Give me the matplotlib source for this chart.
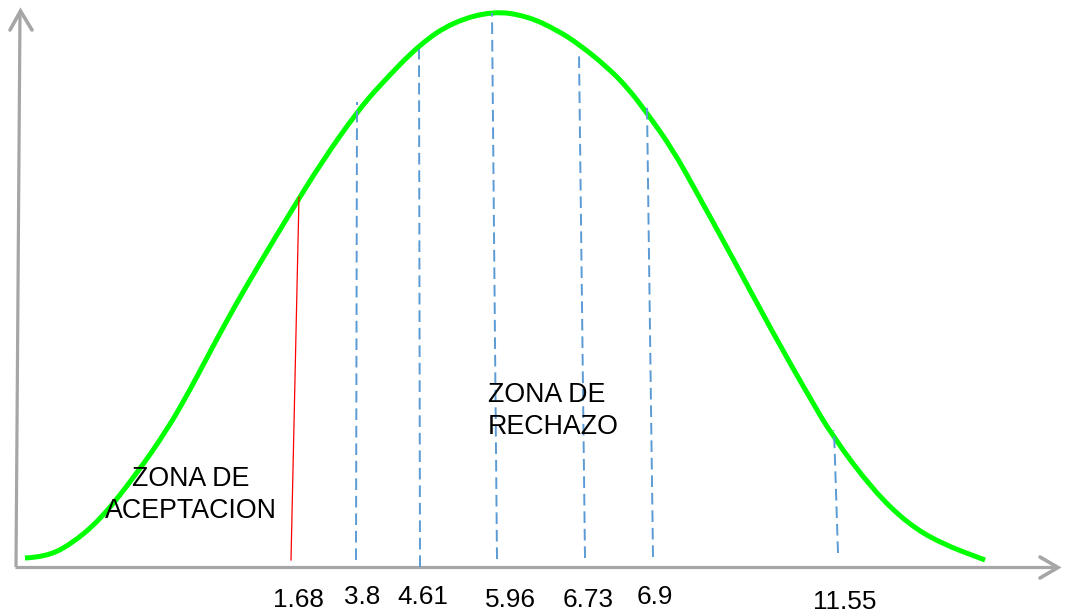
import matplotlib
matplotlib.use("Agg")
import matplotlib.pyplot as plt
from matplotlib.path import Path
from matplotlib.patches import PathPatch

# puntos de la curva (en pixeles)
curve_x = [25, 45, 70, 100, 135, 167, 190, 212, 236, 260, 290, 323, 357, 380,
           420, 453, 493, 527, 557, 580, 607, 627, 647, 673, 697, 730,
           773, 807, 833, 873, 907, 940, 985]
curve_y = [558, 557, 545, 520, 476, 430, 390, 348, 304, 263, 213, 160, 112, 85,
           44, 22, 11, 16, 30, 45, 67, 87, 113, 150, 193, 253,
           333, 393, 437, 490, 523, 543, 560]

# valores criticos y posicion de sus lineas
cut_labels = ["3.8", "4.61", "5.96", "6.73", "6.9", "11.55"]
cut_x0 = [356, 420, 497, 585, 653, 838]   # abajo
cut_x1 = [357, 419, 492, 579, 647, 834]   # arriba
cut_y0 = [560, 567, 559, 558, 557, 553]
cut_y1 = [102, 49, 13, 53, 106, 430]
label_x = [362, 423, 510, 588, 655, 845]
label_y = [597, 597, 600, 600, 597, 602]

red_label = "1.68"
red_x = [291, 299]
red_y = [560, 197]

fig = plt.figure(figsize=(10.67, 6.16), dpi=100)
ax = fig.add_axes([0, 0, 1, 1])
ax.set_xlim(0, 1067)
ax.set_ylim(616, 0)
ax.axis("off")

gray = "#a6a6a6"
# ejes con flechas
ax.plot([16, 20], [567, 12], color=gray, lw=2.3, solid_capstyle="butt")
ax.plot([15, 1056], [567, 567], color=gray, lw=2.3, solid_capstyle="butt")
ax.plot([10, 20.5, 32], [30, 11, 30], color=gray, lw=2.6,
        solid_capstyle="round", solid_joinstyle="miter")
ax.plot([1040, 1058, 1040], [557, 567.5, 578], color=gray, lw=2.6,
        solid_capstyle="round", solid_joinstyle="miter")

# curva suave: bezier cuadratica con los puntos como control
verts = [(curve_x[0], curve_y[0])]
codes = [Path.MOVETO]
for i in range(1, len(curve_x) - 1):
    mx = (curve_x[i] + curve_x[i + 1]) / 2
    my = (curve_y[i] + curve_y[i + 1]) / 2
    verts += [(curve_x[i], curve_y[i]), (mx, my)]
    codes += [Path.CURVE3, Path.CURVE3]
verts.append((curve_x[-1], curve_y[-1]))
codes.append(Path.LINETO)
ax.add_patch(PathPatch(Path(verts, codes), facecolor="none",
                       edgecolor="#00ff00", lw=3.6, capstyle="butt"))

# lineas punteadas
for i in range(len(cut_labels)):
    ax.plot([cut_x0[i], cut_x1[i]], [cut_y0[i], cut_y1[i]], color="#5b9bd5",
            lw=1.4, dashes=(6, 3))
    ax.text(label_x[i], label_y[i], cut_labels[i], ha="center", va="center",
            fontsize=18.8, family="Liberation Sans", color="black")

# linea roja
ax.plot(red_x, red_y, color="red", lw=0.9)
ax.text(298, 600, red_label, ha="center", va="center", fontsize=18.8,
        family="Liberation Sans", color="black")

ax.text(191, 479, "ZONA DE", ha="center", va="center", fontsize=19.3,
        family="Liberation Sans")
ax.text(191, 511, "ACEPTACION", ha="center", va="center", fontsize=19.3,
        family="Liberation Sans")
ax.text(488, 395, "ZONA DE", ha="left", va="center", fontsize=19.3,
        family="Liberation Sans")
ax.text(488, 427, "RECHAZO", ha="left", va="center", fontsize=19.3,
        family="Liberation Sans")

fig.savefig("out.png", dpi=100)
